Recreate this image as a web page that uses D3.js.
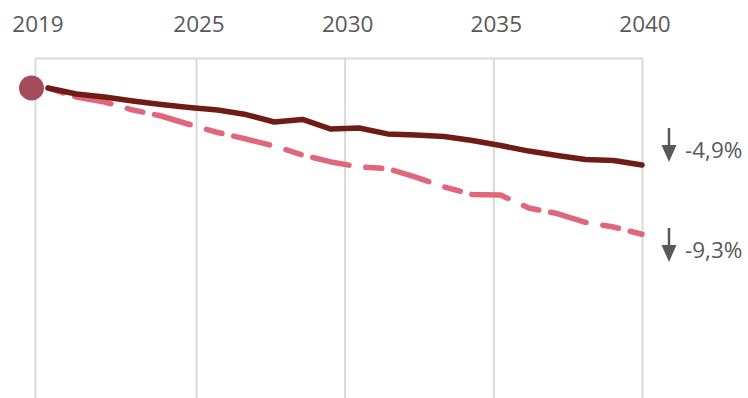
<!DOCTYPE html>
<html>
<head>
<meta charset="utf-8">
<script src="https://cdn.jsdelivr.net/npm/d3@7"></script>
<style>
  html, body { margin: 0; padding: 0; background: #ffffff; }
  svg { display: block; }
  text { font-family: "Open Sans", "Noto Sans", sans-serif; fill: #595959; }
</style>
</head>
<body>
<svg id="chart" width="748" height="398"></svg>
<script>
// Years of the projection
const years = [2019, 2020, 2021, 2022, 2023, 2024, 2025, 2026, 2027, 2028, 2029,
               2030, 2031, 2032, 2033, 2034, 2035, 2036, 2037, 2038, 2039, 2040];

// Change against 2019, in percent
const centralChange = [0, -0.38, -0.57, -0.83, -1.05, -1.24, -1.40, -1.69, -2.16, -2.00, -2.61,
                       -2.54, -2.92, -2.99, -3.08, -3.34, -3.66, -4.01, -4.29, -4.55, -4.61, -4.9];
const lowChange = [0, -0.57, -0.89, -1.40, -1.78, -2.32, -2.83, -3.24, -3.69, -4.26, -4.70,
                   -5.02, -5.12, -5.66, -6.29, -6.77, -6.80, -7.63, -7.98, -8.55, -8.84, -9.3];

// Axis ticks and end-of-period labels
const tickYears = [2019, 2025, 2030, 2035, 2040];
const endLabels = ["-4,9%", "-9,3%"];

const svg = d3.select("#chart");
const W = 748, H = 398;
const plotTop = 58;

// Data positions along the period
const x = d3.scalePoint().domain(years).range([48, 642]);
// Gridline positions for the labelled years
const xGrid = d3.scaleLinear().domain([2019, 2025, 2040]).range([35, 196, 642]);
const y = d3.scaleLinear().domain([0, -10]).range([88, 245.3]);

// Top axis with vertical gridlines running down the plot
const axis = d3.axisTop(xGrid)
  .tickValues(tickYears)
  .tickFormat(d3.format("d"))
  .tickSizeInner(-(H - plotTop + 5))
  .tickSizeOuter(0)
  .tickPadding(26);

const gAxis = svg.append("g")
  .attr("transform", `translate(0,${plotTop})`)
  .call(axis);
gAxis.select(".domain").attr("stroke", "#d9d9d9").attr("stroke-width", 2);
gAxis.selectAll(".tick line").attr("stroke", "#d9d9d9").attr("stroke-width", 2);
gAxis.selectAll(".tick text")
  .attr("fill", "#595959")
  .attr("dx", 2.5)
  .style("font-family", '"Open Sans", "Noto Sans", sans-serif')
  .style("font-size", "22.5px");

const line = d3.line()
  .x((d, i) => x(years[i]))
  .y(d => y(d));

// Low path, dashed
svg.append("path")
  .datum(lowChange)
  .attr("d", line)
  .attr("fill", "none")
  .attr("stroke", "#e0677b")
  .attr("stroke-width", 5.5)
  .attr("stroke-linecap", "round")
  .attr("stroke-linejoin", "round")
  .attr("stroke-dasharray", "16,12,37,17");

// Central path, solid
svg.append("path")
  .datum(centralChange)
  .attr("d", line)
  .attr("fill", "none")
  .attr("stroke", "#6f1d14")
  .attr("stroke-width", 5.5)
  .attr("stroke-linejoin", "round")
  .attr("stroke-linecap", "round");

// Base year marker
svg.append("circle")
  .attr("cx", xGrid(2019) - 3.5)
  .attr("cy", y(0))
  .attr("r", 12.5)
  .attr("fill", "#a44b5c");

// End-of-period change annotations with down arrows
const annoRows = [145, 245];
const arrowX = 669;
const anno = svg.selectAll("g.anno")
  .data(endLabels)
  .join("g")
  .attr("class", "anno")
  .attr("transform", (d, i) => `translate(${arrowX},${annoRows[i]})`);

anno.append("line")
  .attr("x1", 0).attr("x2", 0)
  .attr("y1", -17).attr("y2", 4)
  .attr("stroke", "#595959")
  .attr("stroke-width", 2.5);
anno.append("path")
  .attr("d", "M-7.5,0 L7.5,0 L0,17 Z")
  .attr("fill", "#595959");
anno.append("text")
  .attr("x", 16)
  .attr("y", 13)
  .style("font-size", "22.5px")
  .text(d => d);
</script>
</body>
</html>
